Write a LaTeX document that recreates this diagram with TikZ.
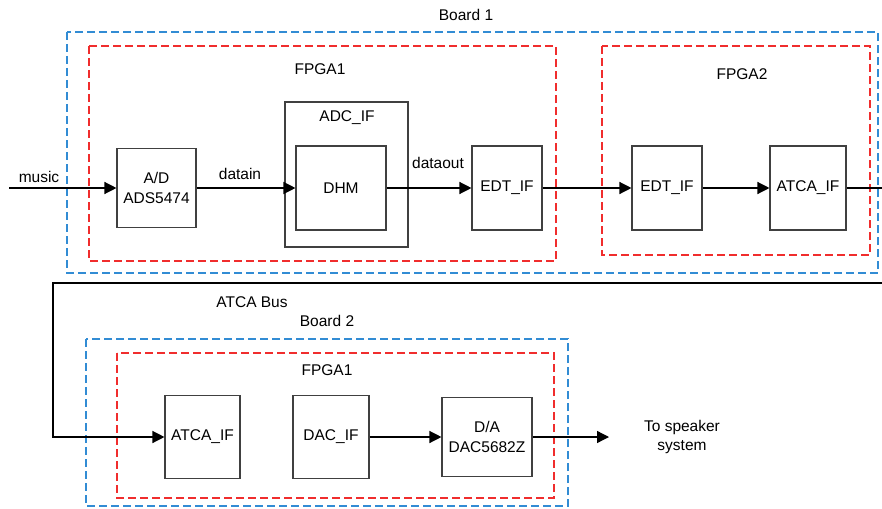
\documentclass[tikz,border=0pt]{standalone}
\usepackage{fontspec}
\setmainfont{Liberation Sans}
\usetikzlibrary{arrows.meta}
\definecolor{boardblue}{RGB}{50,140,212}
\definecolor{fpgared}{RGB}{240,45,45}
\begin{document}
\begin{tikzpicture}[x=1pt,y=-1pt,
  every node/.style={font=\fontsize{15.5}{19.5}\selectfont},
  blk/.style={draw=black!75,line width=1.1pt,fill=white,inner sep=0pt,align=center},
  board/.style={draw=boardblue,line width=1.15pt,dash pattern=on 8pt off 4pt},
  fpga/.style={draw=fpgared,line width=1.15pt,dash pattern=on 8pt off 4pt},
  wire/.style={line width=1.3pt},
  link/.style={wire,-{Triangle[length=12pt,width=12pt]}},
  lbl/.style={inner sep=0pt,align=center}]
\useasboundingbox (0,0) rectangle (882,508);

% containers: boards (blue) and FPGAs (red)
\draw[board] (67,32) rectangle (878,273);
\draw[fpga] (89,46) rectangle (556,261);
\draw[fpga] (602,46) rectangle (870,255);
\draw[board] (86,339) rectangle (568,506);
\draw[fpga] (117,353) rectangle (554,498);

% container titles
\node[lbl] (b1t) at (466,15) {Board 1};
\node[lbl] (f1t) at (320,69) {FPGA1};
\node[lbl] (f2t) at (742,74) {FPGA2};
\node[lbl] (bust) at (252,302) {ATCA Bus};
\node[lbl] (b2t) at (327,321) {Board 2};
\node[lbl] (f3t) at (327,370) {FPGA1};

% board 1 blocks
\node[blk,minimum width=79pt,minimum height=79pt] (ad) at (156.5,188) {A/D\\ADS5474};
\node[blk,minimum width=123pt,minimum height=145pt] (adcif) at (346.5,174.5) {};
\node[lbl] (adct) at (347,118) {ADC\_IF};
\node[blk,minimum width=90pt,minimum height=84pt] (dhm) at (341,188) {DHM};
\node[blk,minimum width=70pt,minimum height=84pt] (edt1) at (507,188) {EDT\_IF};
\node[blk,minimum width=70pt,minimum height=84pt] (edt2) at (667,188) {EDT\_IF};
\node[blk,minimum width=76pt,minimum height=84pt] (atca1) at (808,188) {ATCA\_IF};

% board 2 blocks
\node[blk,minimum width=75pt,minimum height=83pt] (atca2) at (202.5,437) {ATCA\_IF};
\node[blk,minimum width=76pt,minimum height=83pt] (dacif) at (331,437) {DAC\_IF};
\node[blk,minimum width=90pt,minimum height=79pt] (da) at (487,437) {D/A\\DAC5682Z};

% free ends
\coordinate (musicin) at (9,188);
\coordinate (out1) at (882,188);
\coordinate (busR) at (882,283);
\coordinate (busL) at (53,283);
\coordinate (spk) at (609,437);

% signal labels
\node[lbl] (musict) at (39,177) {music};
\node[lbl] (dint) at (240,174) {datain};
\node[lbl] (doutt) at (438,163) {dataout};
\node[lbl] (spkt) at (682,437) {To speaker\\system};

% connectors
\draw[link] (musicin) -- (ad.west);
\draw[link] (ad.east) -- (ad.east -| dhm.west);
\draw[link] (dhm.east) -- (edt1.west);
\draw[link] (edt1.east) -- (edt2.west);
\draw[link] (edt2.east) -- (atca1.west);
\draw[wire] (atca1.east) -- (out1);
\draw[link] (busR) -- (busL) |- (atca2.west);
\draw[link] (dacif.east) -- (da.west);
\draw[link] (da.east) -- (spk);
\end{tikzpicture}
\end{document}
